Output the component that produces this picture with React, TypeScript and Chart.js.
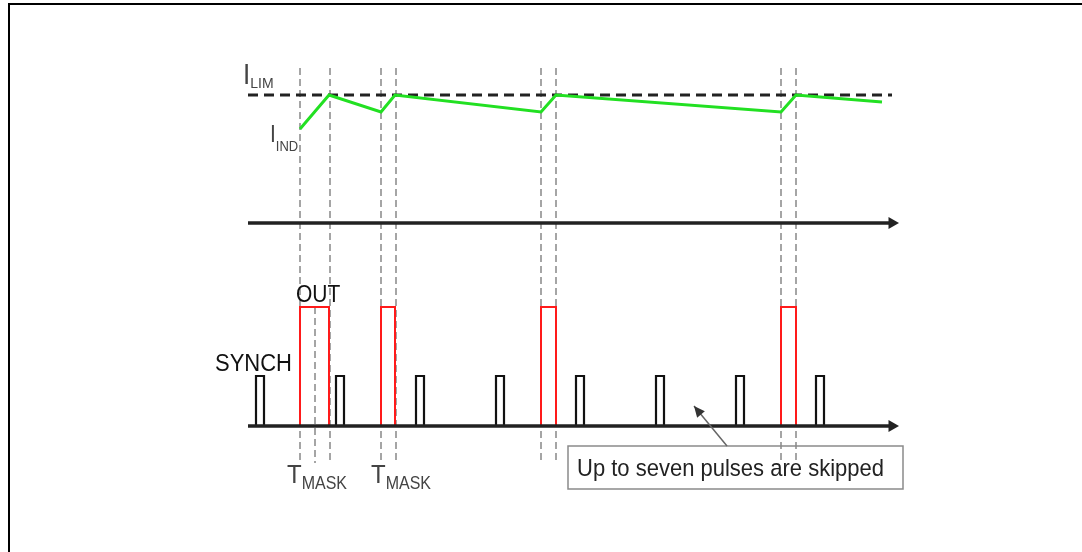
import React, { useEffect, useRef } from "react";
import { Chart, registerables } from "chart.js";

Chart.register(...registerables);

const W = 1082;
const H = 552;

// ---- data (diagram units: x = time, y = vertical level, top = 0) ----
const iLimLevel = 95;
const iLimSpan = [248, 892];
const iIndX = [300, 329, 381, 395, 541, 556, 781, 796, 882];
const iIndY = [129, 95, 112, 95, 112, 95, 112, 95, 102];

const currentAxisLevel = 223;
const signalAxisLevel = 426;
const axisSpan = [248, 892];

const outHigh = 307;
const outPulses = [
  [300, 329],
  [381, 395],
  [541, 556],
  [781, 796],
];

const synchHigh = 376;
const synchStarts = [256, 336, 416, 496, 576, 656, 736, 816];
const synchWidth = 8;

const maskLinesFull = [300, 330, 381, 396, 541, 556, 781, 796];
const maskLinesFullSpan = [68, 463];
const maskLinesShort = [315];
const maskLinesShortSpan = [307, 463];

type Label = { text: string; sub?: string; x: number; y: number; size: number; subSize?: number; subDy?: number; color: string };
const labels: Label[] = [
  { text: "I", sub: "LIM", x: 243, y: 84, size: 26, subSize: 14, subDy: 4, color: "#444" },
  { text: "I", sub: "IND", x: 270, y: 142, size: 21, subSize: 13, subDy: 8, color: "#444" },
  { text: "OUT", x: 296, y: 302, size: 21, color: "#111" },
  { text: "SYNCH", x: 215, y: 371, size: 22, color: "#111" },
  { text: "T", sub: "MASK", x: 287, y: 483, size: 24, subSize: 16, subDy: 5, color: "#444" },
  { text: "T", sub: "MASK", x: 371, y: 483, size: 24, subSize: 16, subDy: 5, color: "#444" },
];

const noteText = "Up to seven pulses are skipped";
const noteBox = { x0: 568, y0: 446, x1: 903, y1: 489 };
const noteTextPos = { x: 577, y: 476 };
const noteArrow = { fromX: 727, fromY: 446, toX: 694, toY: 406 };

const frame = { left: 9, top: 4 };

// ---- chart ----
const FONT = '"Liberation Sans", Arial, sans-serif';

function line(points: { x: number; y: number }[], color: string, width: number, dash: number[] = [], order = 5) {
  return {
    type: "line" as const,
    data: points,
    showLine: true,
    borderColor: color,
    borderWidth: width,
    borderDash: dash,
    pointRadius: 0,
    fill: false,
    tension: 0,
    order,
    borderCapStyle: "butt" as const,
    borderJoinStyle: "miter" as const,
  };
}

const annotPlugin = {
  id: "annot",
  afterDatasetsDraw(chart: any) {
    const { ctx, scales } = chart;
    const px = (v: number) => scales.x.getPixelForValue(v);
    const py = (v: number) => scales.y.getPixelForValue(v);
    ctx.save();
    // frame
    ctx.strokeStyle = "#000";
    ctx.lineWidth = 2;
    ctx.beginPath();
    ctx.moveTo(px(frame.left), H);
    ctx.lineTo(px(frame.left), py(frame.top));
    ctx.lineTo(W, py(frame.top));
    ctx.stroke();

    // labels
    ctx.textBaseline = "alphabetic";
    ctx.textAlign = "left";
    for (const l of labels) {
      ctx.fillStyle = l.color;
      ctx.font = `${l.size}px ${FONT}`;
      const x = px(l.x);
      const y = py(l.y);
      ctx.save();
      ctx.translate(x, y);
      ctx.scale(1, 1.1);
      ctx.fillText(l.text, 0, 0);
      const w = ctx.measureText(l.text).width;
      if (l.sub) {
        ctx.font = `${l.subSize}px ${FONT}`;
        ctx.fillText(l.sub, w, l.subDy || 0);
      }
      ctx.restore();
    }

    // note box
    ctx.strokeStyle = "#8a8a8a";
    ctx.lineWidth = 1.5;
    ctx.strokeRect(px(noteBox.x0), py(noteBox.y0), px(noteBox.x1) - px(noteBox.x0), py(noteBox.y1) - py(noteBox.y0));
    ctx.fillStyle = "#222";
    ctx.font = `22px ${FONT}`;
    ctx.save();
    ctx.translate(px(noteTextPos.x), py(noteTextPos.y));
    ctx.scale(1, 1.08);
    ctx.fillText(noteText, 0, 0);
    ctx.restore();

    // note arrow
    const fx = px(noteArrow.fromX), fy = py(noteArrow.fromY);
    const tx = px(noteArrow.toX), ty = py(noteArrow.toY);
    ctx.strokeStyle = "#666";
    ctx.lineWidth = 1.5;
    ctx.beginPath();
    ctx.moveTo(fx, fy);
    ctx.lineTo(tx, ty);
    ctx.stroke();
    const ang = Math.atan2(ty - fy, tx - fx);
    const hl = 11, hw = 5;
    ctx.fillStyle = "#333";
    ctx.beginPath();
    ctx.moveTo(tx, ty);
    ctx.lineTo(tx - hl * Math.cos(ang) + hw * Math.sin(ang), ty - hl * Math.sin(ang) - hw * Math.cos(ang));
    ctx.lineTo(tx - hl * Math.cos(ang) - hw * Math.sin(ang), ty - hl * Math.sin(ang) + hw * Math.cos(ang));
    ctx.closePath();
    ctx.fill();
    ctx.restore();
  },
};

export default function App() {
  const ref = useRef<HTMLCanvasElement | null>(null);

  useEffect(() => {
    if (!ref.current) return;
    const datasets: any[] = [];

    // grey dashed mask lines
    for (const x of maskLinesFull) {
      datasets.push(line([{ x, y: maskLinesFullSpan[0] }, { x, y: maskLinesFullSpan[1] }], "#8f8f8f", 1.6, [7, 4], 10));
    }
    for (const x of maskLinesShort) {
      datasets.push(line([{ x, y: maskLinesShortSpan[0] }, { x, y: maskLinesShortSpan[1] }], "#8f8f8f", 1.6, [7, 4], 10));
    }

    // SYNCH pulses
    for (const s of synchStarts) {
      datasets.push(
        line(
          [
            { x: s, y: signalAxisLevel },
            { x: s, y: synchHigh },
            { x: s + synchWidth, y: synchHigh },
            { x: s + synchWidth, y: signalAxisLevel },
          ],
          "#111",
          2.2,
          [],
          8
        )
      );
    }

    // OUT pulses
    for (const [a, b] of outPulses) {
      datasets.push(
        line(
          [
            { x: a, y: signalAxisLevel },
            { x: a, y: outHigh },
            { x: b, y: outHigh },
            { x: b, y: signalAxisLevel },
          ],
          "#ff1a1a",
          2,
          [],
          7
        )
      );
    }

    // axes
    for (const lvl of [currentAxisLevel, signalAxisLevel]) {
      datasets.push(line([{ x: axisSpan[0], y: lvl }, { x: axisSpan[1], y: lvl }], "#222", 3.5, [], 3));
      datasets.push({
        type: "line",
        data: [{ x: axisSpan[1], y: lvl }],
        showLine: false,
        pointStyle: "triangle",
        rotation: 90,
        pointRadius: 7,
        pointBackgroundColor: "#222",
        pointBorderColor: "#222",
        pointBorderWidth: 0,
        order: 2,
      });
    }

    // I_LIM dashed
    datasets.push(line([{ x: iLimSpan[0], y: iLimLevel }, { x: iLimSpan[1], y: iLimLevel }], "#222", 3, [10, 6], 4));

    // I_IND
    datasets.push(line(iIndX.map((x, i) => ({ x, y: iIndY[i] })), "#22e022", 3, [], 1));

    const chart = new Chart(ref.current, {
      type: "scatter",
      data: { datasets },
      options: {
        animation: false,
        responsive: false,
        maintainAspectRatio: false,
        layout: { padding: 0, autoPadding: false },
        plugins: { legend: { display: false }, tooltip: { enabled: false } },
        scales: {
          x: { type: "linear", min: 0, max: W, display: false },
          y: { type: "linear", min: 0, max: H, reverse: true, display: false },
        },
        events: [],
      },
      plugins: [annotPlugin],
    } as any);
    return () => chart.destroy();
  }, []);

  return (
    <div style={{ position: "fixed", left: 0, top: 0, width: W, height: H, background: "#fff" }}>
      <canvas ref={ref} width={W} height={H} style={{ width: W, height: H, display: "block" }} />
    </div>
  );
}
